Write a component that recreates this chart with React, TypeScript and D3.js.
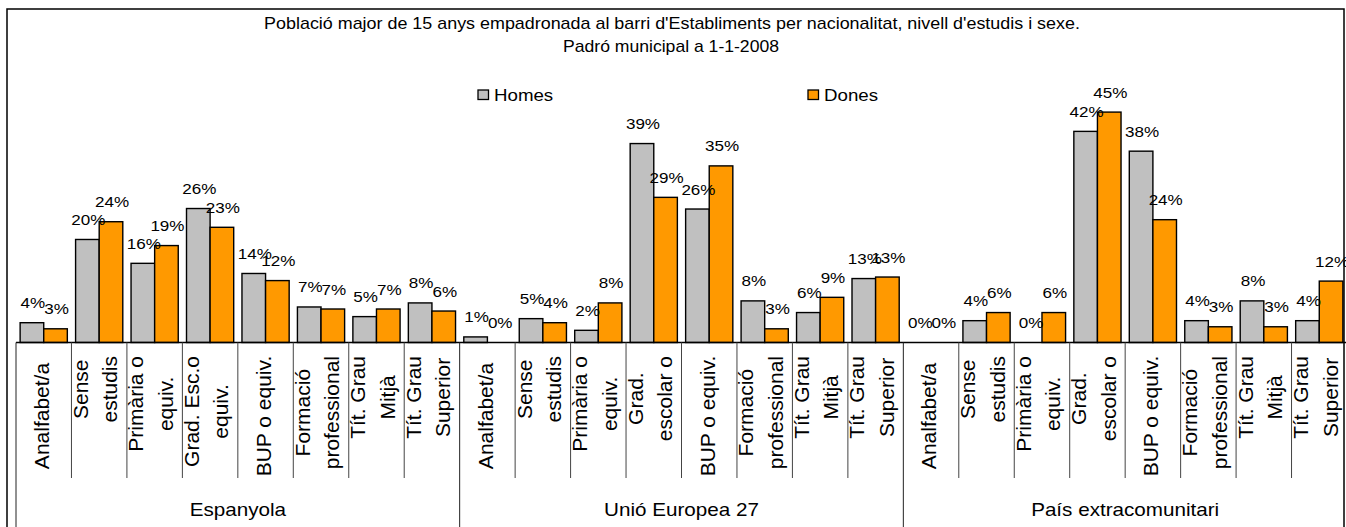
import React, { useEffect, useRef } from 'react';
import * as d3 from 'd3';

const W = 1346;
const H = 527;

const titleLines = [
  "Població major de 15 anys empadronada al barri d'Establiments per nacionalitat, nivell d'estudis i sexe.",
  'Padró municipal a 1-1-2008',
];
const groups = ['Espanyola', 'Unió Europea 27', 'País extracomunitari'];
const categories = [
  'Analfabet/a', 'Sense\nestudis', 'Primària o\nequiv.', 'Grad. Esc.o\nequiv.', 'BUP o equiv.', 'Formació\nprofessional', 'Tít. Grau\nMitjà', 'Tít. Grau\nSuperior',
  'Analfabet/a', 'Sense\nestudis', 'Primària o\nequiv.', 'Grad.\nescolar o', 'BUP o equiv.', 'Formació\nprofessional', 'Tít. Grau\nMitjà', 'Tít. Grau\nSuperior',
  'Analfabet/a', 'Sense\nestudis', 'Primària o\nequiv.', 'Grad.\nescolar o', 'BUP o equiv.', 'Formació\nprofessional', 'Tít. Grau\nMitjà', 'Tít. Grau\nSuperior',
];
const seriesNames = ['Homes', 'Dones'];
const seriesColors = ['#C0C0C0', '#FF9900'];
const homes = [3.9, 20.3, 15.6, 26.4, 13.6, 7.0, 5.1, 7.8, 1.1, 4.7, 2.4, 39.2, 26.3, 8.2, 5.9, 12.6, 0, 4.3, 0, 41.6, 37.7, 4.3, 8.2, 4.3];
const dones = [2.7, 23.8, 19.1, 22.7, 12.2, 6.6, 6.6, 6.2, 0, 3.9, 7.8, 28.6, 34.8, 2.7, 8.9, 12.9, 0, 5.9, 5.9, 45.4, 24.2, 3.1, 3.1, 12.1];
const yMax = 50;

export default function App() {
  const ref = useRef<SVGSVGElement>(null);

  useEffect(() => {
    const svg = d3.select(ref.current);
    svg.selectAll('*').remove();
    const FONT = '"Liberation Sans", Arial, sans-serif';

    const left = 16;
    const right = 1347;
    const y0 = 342.5;
    const yTop = y0 - yMax * 5.075;

    const x = d3.scaleBand<number>().domain(d3.range(categories.length)).range([left, right]).padding(0);
    const xs = d3.scaleBand<string>().domain(seriesNames).range([0, x.bandwidth()]).paddingInner(0).paddingOuter(0.175);
    const y = d3.scaleLinear().domain([0, yMax]).range([y0, yTop]);
    const step = x.step();
    const nPer = categories.length / groups.length;

    // background + border
    svg.append('rect').attr('x', 0).attr('y', 0).attr('width', W).attr('height', H).attr('fill', '#fff');
    svg.append('rect').attr('x', 7).attr('y', 9).attr('width', 1337).attr('height', H + 20)
      .attr('fill', '#fff').attr('stroke', '#000').attr('stroke-width', 1.5);

    const hText = (gsel: any, tx: number, ty: number, txt: string, size: number, sx: number, anchor = 'middle') =>
      gsel.append('text')
        .attr('transform', `translate(${tx},${ty}) scale(${sx},1)`)
        .attr('text-anchor', anchor)
        .attr('font-family', FONT)
        .attr('font-size', size)
        .attr('fill', '#000')
        .text(txt);

    // title
    const tg = svg.append('g');
    hText(tg, 672, 28.7, titleLines[0], 16, 1.12);
    hText(tg, 671, 52.3, titleLines[1], 16, 1.1);

    // legend
    const lg = svg.append('g');
    const legendX = [478, 808];
    seriesNames.forEach((s, k) => {
      lg.append('rect').attr('x', legendX[k]).attr('y', 90).attr('width', 10.5).attr('height', 9.5)
        .attr('fill', seriesColors[k]).attr('stroke', '#000').attr('stroke-width', 1.3);
      hText(lg, legendX[k] + 16, 100.5, s, 17, 1.1, 'start');
    });

    // bars
    const series = [homes, dones];
    const bg = svg.append('g');
    series.forEach((vals, k) => {
      vals.forEach((v, i) => {
        if (v <= 0) return;
        bg.append('rect')
          .attr('x', x(i)! + xs(seriesNames[k])!)
          .attr('y', y(v))
          .attr('width', xs.bandwidth())
          .attr('height', y0 - y(v))
          .attr('fill', seriesColors[k])
          .attr('stroke', '#000')
          .attr('stroke-width', 1.4);
      });
    });

    // axis line and ticks
    const ag = svg.append('g');
    ag.append('line').attr('x1', left).attr('x2', right).attr('y1', y0).attr('y2', y0)
      .attr('stroke', '#000').attr('stroke-width', 1.5);
    for (let i = 0; i <= categories.length; i++) {
      const xx = left + i * step;
      const isGroup = i % nPer === 0;
      ag.append('line').attr('x1', xx).attr('x2', xx).attr('y1', y0).attr('y2', isGroup ? H + 5 : 478)
        .attr('stroke', isGroup ? '#222' : '#444').attr('stroke-width', 1);
    }

    // data labels
    const dg = svg.append('g');
    series.forEach((vals, k) => {
      vals.forEach((v, i) => {
        const cx = x(i)! + xs(seriesNames[k])! + xs.bandwidth() / 2 + 1;
        hText(dg, cx, y(v) - 14.5, `${Math.round(v)}%`, 15.5, 1.1);
      });
    });

    // category labels (rotated)
    const cg = svg.append('g');
    categories.forEach((c, i) => {
      const lines = c.split('\n');
      const texts = lines.map((ln) =>
        cg.append('text')
          .attr('text-anchor', 'middle')
          .attr('font-family', FONT)
          .attr('font-size', 21)
          .attr('fill', '#000')
          .text(ln)
      );
      const lens = texts.map((t) => (t.node() as SVGTextElement).getComputedTextLength());
      const L = d3.max(lens) || 0;
      const yc = lines.length === 1 ? 416 : 356 + L / 2;
      const offs = lines.length === 1 ? [33] : [16.5, 46];
      texts.forEach((t, j) => {
        t.attr('transform', `translate(${x(i)! + offs[j]},${yc}) rotate(-90)`);
      });
    });

    // group labels
    const gg = svg.append('g');
    groups.forEach((gname, gi) => {
      const cx = left + (gi + 0.5) * nPer * step;
      hText(gg, cx, 516, gname, 17.5, 1.18);
    });
  }, []);

  return (
    <svg
      ref={ref}
      width={W}
      height={H}
      style={{ position: 'absolute', left: 0, top: 0, display: 'block' }}
    />
  );
}
